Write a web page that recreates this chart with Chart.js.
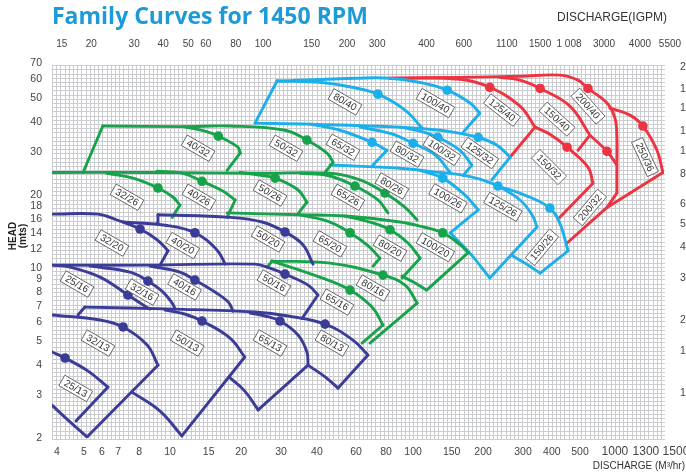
<!DOCTYPE html>
<html>
<head>
<meta charset="utf-8">
<script src="https://cdn.jsdelivr.net/npm/chart.js@4.4.1/dist/chart.umd.min.js"></script>
<style>
  html, body { margin: 0; padding: 0; background: #fff; }
  #wrap { width: 686px; height: 473px; position: relative; }
</style>
</head>
<body>
<div id="wrap"><canvas id="family"></canvas></div>
<script>
// ---- axis labels ----
// head in metres (left), discharge in m3/hr (bottom), IGPM (top), feet (right, cut at the edge)
const headTicks = [2, 3, 4, 5, 6, 7, 8, 9, 10, 12, 14, 16, 18, 20, 30, 40, 50, 60, 70];
const flowLabels = ['4', '5', '6', '7', '8', '10', '15', '20', '30', '40', '60', '80', '100', '150', '200', '300', '400', '500', '1000', '1300', '1500'];
// where each label sits on the m3/hr scale (the printed labels are not evenly placed)
const flowLabelAt = [3.49, 4.51, 5.35, 6.23, 7.6, 10.2, 14.7, 20, 29.2, 41, 59.4, 78.9, 102, 147, 198, 289, 380, 496, 691, 927, 1232];
const igpmLabels = ['15', '20', '30', '40', '50', '60', '80', '100', '150', '200', '300', '400', '600', '1100', '1500', '1 008', '3000', '4000', '5500'];
const igpmLabelAt = [13.4, 17.7, 26.6, 35, 44.4, 52.4, 69.7, 90.2, 143, 200, 266, 425, 605, 909, 1246, 1639, 2284, 3211, 4267];
const feetLabels = [220, 180, 150, 120, 100, 80, 60, 50, 40, 30, 20, 15, 10];

// ---- pump curves: [m3/hr, head m]; each stroke is one drawn line ----
const navyPumps = [
  { model: '25/13', bep: [3.77, 4.27], strokes: [
    [[3.33, 4.52], [3.77, 4.27], [4.69, 3.77], [5.66, 3.24]],
    [[5.66, 3.24], [4.18, 2.35]]] },
  { model: '32/13', bep: [6.53, 5.73], strokes: [
    [[3.33, 6.42], [5.25, 6.12], [6.53, 5.73], [8.2, 4.83], [9.09, 3.99]],
    [[9.09, 3.99], [4.64, 2.02]],
    [[4.64, 2.02], [3.95, 2.33], [3.33, 2.73]]] },
  { model: '50/13', bep: [13.8, 6.06], strokes: [
    [[9.72, 6.73], [11.7, 6.48], [13.8, 6.06], [18, 5.16], [20.7, 4.31]],
    [[20.7, 4.31], [11.4, 2.04]],
    [[11.4, 2.04], [9.27, 2.58], [7.11, 3.09]]] },
  { model: '65/13', bep: [28.9, 6.06], strokes: [
    [[21.8, 6.54], [25.1, 6.36], [28.9, 6.06], [34.3, 5.31], [37.3, 4.52], [37.7, 3.99]],
    [[37.7, 3.99], [23.5, 2.61]],
    [[23.5, 2.61], [20.7, 3.12], [17.8, 3.57]]] },
  { model: '80/13', bep: [44.3, 5.89], strokes: [
    [[4.26, 6.42], [4.55, 6.92]],
    [[4.55, 6.92], [10.7, 6.79], [22.8, 6.6], [31.2, 6.36], [44.3, 5.89], [57.7, 5.06], [66.5, 4.39]],
    [[66.5, 4.39], [50.1, 3.21]],
    [[50.1, 3.21], [44.3, 3.57], [37.7, 3.99]]] },
  { model: '25/16', bep: [6.84, 7.76], strokes: [
    [[3.33, 10.3], [3.95, 10.1], [5.25, 9.19], [6.84, 7.76], [7.67, 7.19], [8.43, 6.79]]] },
  { model: '32/16', bep: [8.27, 8.85], strokes: [
    [[4.78, 10.2], [6.98, 9.64], [8.27, 8.85], [9.45, 8.05], [10.4, 7.19], [10.7, 6.79]]] },
  { model: '40/16', bep: [12.9, 8.94], strokes: [
    [[8.43, 10.2], [11.2, 9.64], [12.9, 8.94], [15.6, 7.98], [17.7, 7.26], [18.5, 6.66]]] },
  { model: '50/16', bep: [30.3, 9.46], strokes: [
    [[3.33, 10.3], [8.43, 10.3], [22.8, 10.4], [26.3, 10], [30.3, 9.46], [37.7, 8.52], [41.4, 7.76]],
    [[41.4, 7.76], [35.6, 6.2]]] },
  { model: '32/20', bep: [7.67, 14.5], strokes: [
    [[3.33, 16.7], [5.15, 16.7], [6.17, 15.8], [7.67, 14.5], [9.01, 13.1], [10, 11.8]],
    [[10, 11.8], [9.27, 10.3]]] },
  { model: '40/20', bep: [12.9, 14], strokes: [
    [[6.53, 15.5], [9.91, 15], [12.9, 14], [15.9, 11.9], [17.2, 10.4]]] },
  { model: '50/20', bep: [30.3, 14.1], strokes: [
    [[9.01, 15.3], [9.09, 16.6]],
    [[9.09, 16.6], [18, 16.2], [24.4, 15.5], [30.3, 14.1], [35.9, 12.5], [39.5, 10.4]]] }
];

const greenPumps = [
  { model: '65/16', bep: [56.1, 8.13], strokes: [
    [[25.8, 10.2], [26.8, 10.7]],
    [[26.8, 10.7], [43, 9.12], [56.1, 8.13], [69.1, 6.92], [76.7, 5.84]],
    [[76.7, 5.84], [62.9, 4.92]]] },
  { model: '80/16', bep: [76.7, 9.37], strokes: [
    [[26.8, 10.7], [46.4, 10.5], [76.7, 9.37], [94.5, 8.52], [106, 7.19]],
    [[106, 7.19], [67.8, 4.92]]] },
  { model: '65/20', bep: [56.1, 14], strokes: [
    [[34.9, 16.6], [46.4, 15.5], [56.1, 14], [66.5, 12.4], [74.5, 11]],
    [[74.5, 11], [69.8, 10.2]]] },
  { model: '80/20', bep: [82, 14.4], strokes: [
    [[53.5, 16.4], [67.8, 15.5], [82, 14.4], [97.2, 12.7], [109, 11]],
    [[109, 11], [91.8, 9.12]]] },
  { model: '100/20', bep: [135, 14], strokes: [
    [[17.5, 16.9], [34.9, 16.6], [53.5, 16.4], [90.1, 15.5], [109, 14.9], [135, 14], [159, 12.5], [172, 11.6]],
    [[172, 11.6], [116, 8.13]],
    [[116, 8.13], [104, 8.69], [91.8, 9.28]]] },
  { model: '32/26', bep: [9.09, 21.4], strokes: [
    [[5.6, 24.6], [7.18, 23.5], [9.09, 21.4], [10.5, 19.6], [11.2, 18.2]],
    [[11.2, 18.2], [10.4, 16.2]]] },
  { model: '40/26', bep: [13.8, 22.8], strokes: [
    [[9.01, 25.1], [11.5, 24.6], [13.8, 22.8], [16.8, 20.8], [18.9, 19.1]],
    [[18.9, 19.1], [17.5, 16.2]]] },
  { model: '50/26', bep: [27.6, 23.5], strokes: [
    [[19.8, 24.8], [24.4, 24.1], [27.6, 23.5], [34.3, 21], [37.3, 18.7]],
    [[37.3, 18.7], [34, 16.6]]] },
  { model: '65/26', bep: [58.8, 21.8], strokes: [
    [[34.9, 24.6], [45.5, 24.1], [58.8, 21.8], [73.1, 19.1], [80.4, 16.9]]] },
  { model: '80/26', bep: [78.2, 20.4], strokes: [
    [[3.33, 24.8], [8.43, 24.8], [23.9, 24.6], [46.4, 24.6], [61.7, 23.1], [78.2, 20.4], [94.5, 17.8], [106, 15.8]]] },
  { model: '40/32', bep: [16.1, 35], strokes: [
    [[4.47, 24.8], [5.39, 38.5]],
    [[11.5, 38.3], [14.2, 36.7], [16.1, 35], [19.4, 31.5], [19.8, 29.8]],
    [[19.8, 29.8], [17.5, 25.3]]] },
  { model: '50/32', bep: [37.3, 33.7], strokes: [
    [[5.39, 38.5], [11.5, 38.3], [18, 38.5], [30.3, 37], [37.3, 33.7], [45.1, 29.8], [47.8, 27.3]],
    [[47.8, 27.3], [44.3, 24.8]]] }
];

const bluePumps = [
  { model: '80/40', bep: [73.1, 52.1], strokes: [
    [[22.8, 39.6], [28.1, 59]],
    [[28.1, 59], [43, 58.2], [57.2, 55.6], [73.1, 52.1], [94.5, 44.8], [111, 37.8]]] },
  { model: '100/40', bep: [141, 54.1], strokes: [
    [[28.1, 59], [59.9, 60.6], [82, 60.6], [109, 58.2], [141, 54.1], [175, 47.9], [192, 43.5]],
    [[192, 43.5], [164, 36.3]]] },
  { model: '65/32', bep: [69.1, 33], strokes: [
    [[38.4, 39.2], [51, 37], [69.1, 33], [79.6, 30.6]],
    [[79.6, 30.6], [69.8, 26.6]]] },
  { model: '80/32', bep: [102, 32.7], strokes: [
    [[61.7, 38.1], [82, 35.9], [102, 32.7], [126, 29.2], [145, 24.8]]] },
  { model: '100/32', bep: [129, 34.6], strokes: [
    [[90.1, 38.1], [109, 36.7], [129, 34.6], [159, 30.6], [178, 26.6]],
    [[178, 26.6], [164, 24.1]]] },
  { model: '125/32', bep: [189, 34.6], strokes: [
    [[22.8, 39.6], [38.4, 39.2], [90.1, 38.1], [132, 37], [159, 35.9], [189, 34.6], [226, 32.1], [256, 28.7]],
    [[256, 28.7], [215, 23.1]]] },
  { model: '100/26', bep: [135, 23.5], strokes: [
    [[109, 25.3], [135, 23.5], [167, 20], [189, 17.4]],
    [[189, 17.4], [145, 14]]] },
  { model: '125/26', bep: [228, 21.8], strokes: [
    [[46.4, 26.6], [90.1, 25.8], [132, 24.8], [159, 24.3], [192, 23.3], [228, 21.8], [281, 19.1], [315, 16.6], [330, 14.8]],
    [[330, 14.8], [211, 9.12]],
    [[211, 9.12], [178, 11.3], [145, 14]]] },
  { model: '150/26', bep: [373, 17.7], strokes: [
    [[228, 21.8], [294, 20], [373, 17.7], [410, 15.3], [443, 11.8]],
    [[443, 11.8], [340, 9.55]],
    [[340, 9.55], [294, 10.5], [260, 11.3]]] }
];

const redPumps = [
  { model: '125/40', bep: [211, 55.6], strokes: [
    [[82, 60.6], [159, 60], [211, 55.6], [281, 46.5], [324, 38.1]],
    [[324, 38.1], [256, 28.7]]] },
  { model: '150/40', bep: [340, 55], strokes: [
    [[232, 61.1], [281, 59.5], [340, 55], [451, 46.5], [545, 35.3]],
    [[545, 35.3], [487, 30.6]]] },
  { model: '200/40', bep: [535, 55], strokes: [
    [[82, 60.6], [159, 61.1], [281, 61.7], [410, 62.4], [487, 59.5], [535, 55], [641, 47.9], [691, 41.5], [704, 34.6], [704, 26.6], [704, 20.4]],
    [[704, 20.4], [641, 17.8]]] },
  { model: '150/32', bep: [439, 31.5], strokes: [
    [[324, 38.1], [373, 35.6], [439, 31.5], [535, 26.1], [561, 22.4]],
    [[561, 22.4], [410, 16.2]]] },
  { model: '200/32', bep: [641, 30.3], strokes: [
    [[545, 35.3], [641, 30.3], [704, 26.6]],
    [[641, 17.8], [439, 12.7]]] },
  { model: '250/36', bep: [901, 38.5], strokes: [
    [[659, 45.6], [796, 42.7], [901, 38.5], [1029, 30.6], [1089, 24.8]],
    [[1089, 24.8], [641, 17.8]]] }
];

// model tags: text, m3/hr, head, tilt in degrees
const tags = [
  ['25/13', 4.17, 3.2, 30], ['32/13', 5.15, 4.92, 30], ['50/13', 12, 4.92, 30],
  ['65/13', 26.3, 4.92, 30], ['80/13', 47.3, 4.92, 30],
  ['25/16', 4.22, 8.61, 30], ['32/16', 7.82, 7.98, 30], ['40/16', 11.7, 8.37, 30], ['50/16', 27.3, 8.69, 30],
  ['32/20', 5.88, 12.7, 30], ['40/20', 11.5, 12.4, 30], ['50/20', 25.8, 13.2, 30],
  ['65/16', 49.6, 7.26, 30], ['80/16', 69.8, 8.29, 30],
  ['65/20', 46.4, 12.6, 30], ['80/20', 82, 12.1, 30], ['100/20', 126, 12.2, 30],
  ['32/26', 6.78, 19.6, 30], ['40/26', 13.4, 19.6, 30], ['50/26', 26.3, 20.4, 30],
  ['65/26', 55, 19.6, 30], ['80/26', 83.5, 21.8, 30],
  ['40/32', 13.3, 31.2, 30], ['50/32', 30.6, 31.2, 30],
  ['80/40', 53.5, 48.4, 30], ['100/40', 126, 47.9, 30],
  ['65/32', 52.5, 31.5, 30], ['80/32', 96.3, 29.5, 30], ['100/32', 134, 30.6, 33], ['125/32', 192, 29.8, 35],
  ['100/26', 142, 19.4, 30], ['125/26', 239, 17.9, 30], ['150/26', 346, 12.2, -50],
  ['125/40', 237, 44.8, 38], ['150/40', 399, 41.1, 42], ['200/40', 535, 46.5, 48],
  ['150/32', 370, 26.1, 45], ['200/32', 545, 17.8, -50], ['250/36', 918, 28.7, 65]
];

const families = [
  { pumps: navyPumps, color: '#3b3c97' },
  { pumps: greenPumps, color: '#16a34a' },
  { pumps: bluePumps, color: '#1cb0ea' },
  { pumps: redPumps, color: '#ee3340' }
];

const datasets = [];
families.forEach(f => {
  f.pumps.forEach(p => {
    p.strokes.forEach(s => {
      datasets.push({
        label: p.model,
        data: s.map(([x, y]) => ({ x, y })),
        borderColor: f.color,
        borderWidth: 2.9,
        borderCapStyle: 'round',
        borderJoinStyle: 'round',
        pointRadius: 0,
        tension: s.length > 2 ? 0.4 : 0,
        fill: false
      });
    });
  });
});
families.forEach(f => {
  datasets.push({
    label: 'BEP',
    data: f.pumps.map(p => ({ x: p.bep[0], y: p.bep[1] })),
    showLine: false,
    pointRadius: 4.8,
    pointBackgroundColor: f.color,
    pointBorderColor: f.color,
    pointBorderWidth: 0
  });
});

const SANS = '"Liberation Sans", Arial, sans-serif';

const paperGrid = {
  id: 'paperGrid',
  beforeDatasetsDraw(chart) {
    const { ctx, chartArea: a } = chart;
    const top = a.top + 2, bottom = a.bottom + 1;
    ctx.save();
    ctx.strokeStyle = '#cbccd0';
    ctx.lineWidth = 1;
    ctx.beginPath();
    for (let x = a.left; x <= a.right + 0.1; x += 4.2) {
      const px = Math.round(x) + 0.5;
      ctx.moveTo(px, top); ctx.lineTo(px, bottom);
    }
    for (let y = bottom; y >= top - 0.1; y -= 4.2) {
      const py = Math.round(y) + 0.5;
      ctx.moveTo(a.left, py); ctx.lineTo(a.right + 1, py);
    }
    ctx.stroke();
    ctx.restore();
  }
};

const annotations = {
  id: 'annotations',
  afterDatasetsDraw(chart) {
    const { ctx } = chart;
    const xs = chart.scales.x, ys = chart.scales.y;

    // model tags
    tags.forEach(([text, q, h, deg]) => {
      ctx.save();
      ctx.translate(xs.getPixelForValue(q), ys.getPixelForValue(h));
      ctx.rotate(deg * Math.PI / 180);
      ctx.font = '10px ' + SANS;
      const w = ctx.measureText(text).width + 7, hh = 12;
      ctx.fillStyle = '#fff';
      ctx.fillRect(-w / 2, -hh / 2, w, hh);
      ctx.strokeStyle = '#555';
      ctx.lineWidth = 0.8;
      ctx.strokeRect(-w / 2, -hh / 2, w, hh);
      ctx.fillStyle = '#333';
      ctx.textAlign = 'center';
      ctx.textBaseline = 'middle';
      ctx.fillText(text, 0, 0.5);
      ctx.restore();
    });
  },
  afterDraw(chart) {
    const { ctx } = chart;
    const xs = chart.scales.x, ys = chart.scales.y;
    ctx.save();
    ctx.textBaseline = 'middle';

    // bottom m3/hr labels
    ctx.fillStyle = '#444';
    ctx.textAlign = 'center';
    flowLabels.forEach((t, i) => {
      ctx.font = (i >= 18 ? '12px ' : '10.5px ') + SANS;
      ctx.fillText(t, xs.getPixelForValue(flowLabelAt[i]), 452);
    });
    // top IGPM labels
    ctx.font = '10px ' + SANS;
    igpmLabels.forEach((t, i) => {
      ctx.fillText(t, xs.getPixelForValue(igpmLabelAt[i] / 3.666), 44);
    });
    // right side feet labels, clipped by the canvas edge
    ctx.textAlign = 'left';
    ctx.font = '10.5px ' + SANS;
    feetLabels.forEach(ft => {
      ctx.fillText(String(ft), 680, ys.getPixelForValue(ft * 0.3048));
    });

    // axis titles
    ctx.fillStyle = '#333';
    ctx.font = '12px ' + SANS;
    ctx.textAlign = 'left';
    ctx.fillText('DISCHARGE(IGPM)', 557, 18);
    ctx.font = '10px ' + SANS;
    ctx.textAlign = 'right';
    ctx.fillText('DISCHARGE (M³/hr)', 685, 466);

    ctx.save();
    ctx.translate(13, 236);
    ctx.rotate(-Math.PI / 2);
    ctx.textAlign = 'center';
    ctx.font = 'bold 10px ' + SANS;
    ctx.fillStyle = '#222';
    ctx.fillText('HEAD', 0, 0);
    ctx.fillText('(mts)', 0, 10);
    ctx.restore();

    // main title, fitted to its printed width
    const title = 'Family Curves for 1450 RPM';
    let size = 24;
    ctx.font = '700 ' + size + 'px "Open Sans", sans-serif';
    size = size * 316 / ctx.measureText(title).width;
    ctx.font = '700 ' + size.toFixed(1) + 'px "Open Sans", sans-serif';
    ctx.fillStyle = '#1d9ad8';
    ctx.textAlign = 'left';
    ctx.textBaseline = 'alphabetic';
    ctx.fillText(title, 52, 24);
    ctx.restore();
  }
};

new Chart(document.getElementById('family'), {
  type: 'line',
  data: { datasets },
  options: {
    responsive: true,
    maintainAspectRatio: false,
    animation: false,
    layout: { padding: { top: 63, right: 22, bottom: 35, left: 0 } },
    plugins: { legend: { display: false }, tooltip: { enabled: false }, title: { display: false } },
    scales: {
      x: { type: 'logarithmic', min: 3.33, max: 1100, display: false },
      y: {
        type: 'logarithmic', min: 2, max: 70,
        afterBuildTicks: s => { s.ticks = headTicks.map(v => ({ value: v })); },
        afterFit: s => { s.width = 52; },
        grid: { display: false, drawTicks: false },
        border: { display: false },
        ticks: { padding: 10, color: '#444', autoSkip: false, font: { size: 10.5, family: SANS }, callback: v => String(v) }
      }
    }
  },
  plugins: [paperGrid, annotations]
});
</script>
</body>
</html>
